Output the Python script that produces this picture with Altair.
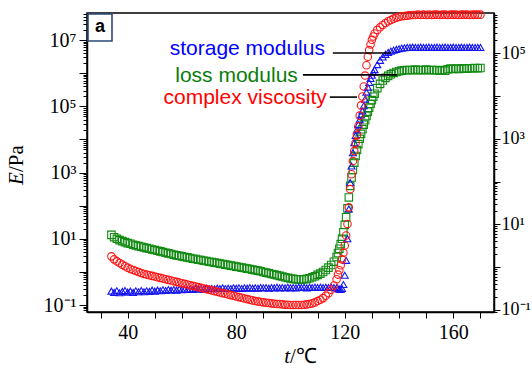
import altair as alt
import pandas as pd

# ---------------- data ----------------
temps = [
    34, 35, 36, 37, 38, 39, 40, 41, 42, 43,
    44, 45, 46, 47, 48, 49, 50, 51, 52, 53,
    54, 55, 56, 57, 58, 59, 60, 61, 62, 63,
    64, 65, 66, 67, 68, 69, 70, 71, 72, 73,
    74, 75, 76, 77, 78, 79, 80, 81, 82, 83,
    84, 85, 86, 87, 88, 89, 90, 91, 92, 93,
    94, 95, 96, 97, 98, 99, 100, 101, 102, 103,
    104, 105, 106, 107, 108, 109, 110, 111, 112, 113,
    114, 115, 116,
    117, 117.5, 118, 118.5, 119, 119.5, 120, 120.5, 121, 121.5,
    122, 122.5, 123, 123.5, 124, 124.5, 125, 125.5, 126, 126.5,
    127, 127.5, 128, 128.5, 129, 129.5, 130, 130.5, 131,
    132, 133, 134, 135, 136, 137, 138, 139, 140, 141,
    142, 143, 144, 145, 146, 147, 148, 149, 150, 151,
    152, 153, 154, 155, 156, 157, 158, 159, 160, 161,
    162, 163, 164, 165, 166, 167, 168, 169, 170,
]

# log10 of the values (Pa)
loss_log = [
    1.12, 1.05, 1.00, 0.96, 0.93, 0.90, 0.87, 0.85, 0.82, 0.80,
    0.78, 0.76, 0.74, 0.72, 0.70, 0.68, 0.66, 0.64, 0.62, 0.60,
    0.58, 0.56, 0.54, 0.52, 0.50, 0.49, 0.47, 0.45, 0.44, 0.42,
    0.40, 0.39, 0.37, 0.36, 0.34, 0.33, 0.31, 0.30, 0.28, 0.27,
    0.25, 0.24, 0.22, 0.21, 0.19, 0.18, 0.16, 0.15, 0.13, 0.12,
    0.10, 0.09, 0.07, 0.05, 0.04, 0.02, 0.00, -0.02, -0.04, -0.06,
    -0.08, -0.10, -0.12, -0.14, -0.16, -0.18, -0.20, -0.21, -0.22, -0.23,
    -0.23, -0.22, -0.21, -0.19, -0.16, -0.13, -0.09, -0.05, 0.00, 0.06,
    0.13, 0.21, 0.31,
    0.45, 0.57, 0.70, 0.84, 1.00, 1.20, 1.42, 1.65, 1.92, 2.25,
    2.60, 2.85, 3.08, 3.30, 3.50, 3.68, 3.86, 4.02, 4.17, 4.31,
    4.45, 4.58, 4.71, 4.84, 4.96, 5.08, 5.19, 5.29, 5.38,
    5.55, 5.68, 5.78, 5.86, 5.92, 5.97, 6.01, 6.04, 6.06, 6.08,
    6.09, 6.10, 6.10, 6.09, 6.11, 6.10, 6.09, 6.10, 6.11, 6.09,
    6.10, 6.10, 6.09, 6.08, 6.10, 6.08, 6.12, 6.14, 6.13, 6.14,
    6.13, 6.14, 6.15, 6.14, 6.15, 6.15, 6.16, 6.15, 6.16,
]

storage_log = [
    -0.58, -0.62, -0.57, -0.63, -0.59, -0.56, -0.61, -0.58, -0.62, -0.57,
    -0.60, -0.56, -0.60, -0.57, -0.59, -0.55, -0.58, -0.55, -0.57, -0.54,
    -0.56, -0.53, -0.55, -0.53, -0.55, -0.52, -0.54, -0.52, -0.53, -0.51,
    -0.53, -0.50, -0.52, -0.50, -0.52, -0.49, -0.51, -0.50, -0.51, -0.49,
    -0.50, -0.48, -0.50, -0.49, -0.50, -0.48, -0.49, -0.48, -0.50, -0.48,
    -0.49, -0.47, -0.49, -0.48, -0.49, -0.47, -0.48, -0.47, -0.49, -0.47,
    -0.48, -0.46, -0.48, -0.47, -0.48, -0.46, -0.48, -0.47, -0.48, -0.46,
    -0.47, -0.46, -0.48, -0.46, -0.47, -0.46, -0.47, -0.46, -0.47, -0.46,
    -0.47, -0.46, -0.47,
    -0.48, -0.50, -0.52, -0.53, -0.50, -0.38, -0.10, 0.35, 1.00, 1.90,
    2.70, 3.20, 3.60, 3.90, 4.12, 4.29, 4.45, 4.60, 4.74, 4.86,
    5.02, 5.22, 5.43, 5.58, 5.72, 5.84, 5.94, 6.03, 6.11,
    6.26, 6.39, 6.49, 6.57, 6.63, 6.67, 6.70, 6.72, 6.74, 6.76,
    6.77, 6.78, 6.78, 6.79, 6.78, 6.78, 6.79, 6.78, 6.78, 6.79,
    6.78, 6.78, 6.79, 6.78, 6.78, 6.79, 6.78, 6.78, 6.79, 6.78,
    6.78, 6.79, 6.78, 6.78, 6.79, 6.78, 6.78, 6.78, 6.78,
]

viscosity_log = [
    0.47, 0.38, 0.32, 0.27, 0.22, 0.17, 0.13, 0.09, 0.06, 0.03,
    0.00, -0.03, -0.06, -0.08, -0.10, -0.12, -0.14, -0.16, -0.18, -0.20,
    -0.22, -0.24, -0.26, -0.28, -0.30, -0.32, -0.34, -0.36, -0.38, -0.40,
    -0.42, -0.44, -0.46, -0.48, -0.50, -0.52, -0.54, -0.56, -0.58, -0.60,
    -0.62, -0.64, -0.66, -0.68, -0.70, -0.72, -0.74, -0.76, -0.78, -0.80,
    -0.82, -0.84, -0.86, -0.88, -0.89, -0.91, -0.92, -0.93, -0.94, -0.95,
    -0.96, -0.97, -0.97, -0.98, -0.99, -0.99, -1.00, -1.00, -1.00, -1.00,
    -1.00, -0.99, -0.98, -0.97, -0.95, -0.92, -0.88, -0.84, -0.79, -0.72,
    -0.64, -0.54, -0.41,
    -0.22, -0.08, 0.05, 0.20, 0.38, 0.58, 0.80, 1.10, 1.45, 1.95,
    2.50, 2.95, 3.35, 3.65, 3.90, 4.14, 4.40, 4.72, 5.03, 5.30,
    5.60, 5.93, 6.24, 6.50, 6.70, 6.87, 7.01, 7.11, 7.20,
    7.31, 7.39, 7.46, 7.52, 7.57, 7.61, 7.65, 7.68, 7.70, 7.72,
    7.73, 7.74, 7.75, 7.76, 7.76, 7.77, 7.76, 7.77, 7.76, 7.77,
    7.76, 7.77, 7.77, 7.76, 7.77, 7.77, 7.76, 7.77, 7.77, 7.77,
    7.76, 7.77, 7.77, 7.77, 7.76, 7.77, 7.77, 7.77, 7.77,
]

series_names = ["loss modulus", "storage modulus", "complex viscosity"]
series_colors = ["#138a13", "#1515f0", "#ff1414"]
series_shapes = ["square", "triangle-up", "circle"]

# annotation (legend) text and leader lines, in data units
label_text = ["storage modulus", "loss modulus", "complex viscosity"]
label_color = ["#0000ff", "#0b7d0b", "#ff0000"]
label_end_t = [112.7, 102.7, 113.4]
label_log = [6.72, 5.92, 5.26]
leader_t1 = [115.6, 104.6, 114.5]
leader_t2 = [137.0, 139.3, 124.5]
leader_log = [6.61, 5.95, 5.28]

x_ticks = [30, 40, 50, 60, 70, 80, 90, 100, 110, 120, 130, 140, 150, 160, 170]

# ---------------- build ----------------
assert len(temps) == len(loss_log) == len(storage_log) == len(viscosity_log)

df_series = {
    "loss modulus": pd.DataFrame({"T": temps, "v": [10 ** v for v in loss_log]}),
    "storage modulus": pd.DataFrame({"T": temps, "v": [10 ** v for v in storage_log]}),
    "complex viscosity": pd.DataFrame({"T": temps, "v": [10 ** v for v in viscosity_log]}),
}

LEFT_LO, LEFT_HI = 10 ** -1.21, 10 ** 7.82
RIGHT_LO, RIGHT_HI = 10 ** -1.05, 10 ** 5.94

left_ticks = [round(n * 10.0 ** k, 10) for k in range(-2, 8) for n in range(1, 10)
              if LEFT_LO <= n * 10.0 ** k <= LEFT_HI]
right_ticks = [round(n * 10.0 ** k, 10) for k in range(-2, 7) for n in range(1, 10)
               if RIGHT_LO <= n * 10.0 ** k <= RIGHT_HI]

xscale = alt.Scale(domain=[25, 175], nice=False, zero=False)
yscale = alt.Scale(type="log", domain=[LEFT_LO, LEFT_HI], nice=False)
yscale_r = alt.Scale(type="log", domain=[RIGHT_LO, RIGHT_HI], nice=False)

major_test = "abs(log(datum.value)/LN10 - round(log(datum.value)/LN10)) < 0.0001"
label_expr = ("datum.value == 0.1 ? '10⁻¹' : datum.value == 10 ? '10¹' : "
              "datum.value == 1000 ? '10³' : datum.value == 100000 ? '10⁵' : "
              "datum.value == 10000000 ? '10⁷' : ''")

SERIF = "Liberation Serif"
SANS = "Liberation Sans"

x_axis = alt.Axis(values=x_ticks, labelExpr="datum.value % 40 == 0 ? format(datum.value, 'd') : ''",
                  title=None, tickSize=6, labelPadding=4, labelOverlap=False,
                  labelFont=SERIF, labelFontSize=20)
y_axis = alt.Axis(values=left_ticks, labelExpr=label_expr, orient="left", title=None,
                  tickSize={"condition": {"test": major_test, "value": 8}, "value": 4},
                  labelPadding=3, labelOverlap=False, labelFont=SERIF, labelFontSize=20)
y_axis_r = alt.Axis(values=right_ticks, labelExpr=label_expr, orient="right", title=None,
                    tickSize={"condition": {"test": major_test, "value": 6}, "value": 3},
                    labelPadding=1, labelOverlap=False, labelFont=SERIF, labelFontSize=18)

layers = []
for i, name in enumerate(series_names):
    layers.append(
        alt.Chart(df_series[name]).mark_point(
            shape=series_shapes[i], filled=False, size=56 if series_shapes[i] != "triangle-up" else 48,
            strokeWidth=1.1, color=series_colors[i], opacity=1, clip=False
        ).encode(
            x=alt.X("T:Q", scale=xscale, axis=x_axis),
            y=alt.Y("v:Q", scale=yscale, axis=y_axis if i == 0 else None),
        )
    )

ann = pd.DataFrame({
    "text": label_text, "color": label_color, "T": label_end_t,
    "ty": [10 ** v for v in label_log],
    "t2": leader_t2, "t1": leader_t1, "ly": [10 ** v for v in leader_log],
})

rules = alt.Chart(ann).mark_rule(color="black", strokeWidth=1.6).encode(
    x=alt.X("t1:Q", scale=xscale, axis=x_axis), x2="t2:Q",
    y=alt.Y("ly:Q", scale=yscale, axis=None),
)
texts = alt.Chart(ann).mark_text(align="right", baseline="middle", font=SANS, fontSize=21).encode(
    x=alt.X("T:Q", scale=xscale, axis=x_axis),
    y=alt.Y("ty:Q", scale=yscale, axis=None),
    text="text:N",
    color=alt.Color("color:N", scale=None),
)

right_axis = alt.Chart(pd.DataFrame({"v": [1.0]})).mark_point(opacity=0).encode(
    y=alt.Y("v:Q", scale=yscale_r, axis=y_axis_r)
)

one = pd.DataFrame({"k": [0]})
box = alt.Chart(one).mark_rect(fill="white", stroke="#2b4a78", strokeWidth=1.6).encode(
    x=alt.value(1), x2=alt.value(25), y=alt.value(1), y2=alt.value(28)
)
box_text = alt.Chart(one).mark_text(text="a", font=SANS, fontWeight="bold", fontSize=18,
                                    align="center", baseline="middle", color="black").encode(
    x=alt.value(13), y=alt.value(14)
)

ytitle_e = alt.Chart(one).mark_text(text="E", font=SERIF, fontStyle="italic", fontSize=21,
                                    angle=270, align="left", baseline="middle", color="black").encode(
    x=alt.value(-70), y=alt.value(172)
)
ytitle_rest = alt.Chart(one).mark_text(text="/Pa", font=SERIF, fontSize=21,
                                       angle=270, align="left", baseline="middle", color="black").encode(
    x=alt.value(-70), y=alt.value(159)
)
xtitle_t = alt.Chart(one).mark_text(text="t", font=SERIF, fontStyle="italic", fontSize=21,
                                    align="right", baseline="middle", color="black").encode(
    x=alt.value(203), y=alt.value(344)
)
xtitle_rest = alt.Chart(one).mark_text(text="/℃", font=SERIF, fontSize=21,
                                       align="left", baseline="middle", color="black").encode(
    x=alt.value(203), y=alt.value(344)
)

chart = alt.layer(
    *layers, rules, texts, right_axis, box, box_text,
    ytitle_e, ytitle_rest, xtitle_t, xtitle_rest
).resolve_scale(
    y="independent"
).properties(
    width=407, height=299,
    autosize=alt.AutoSizeParams(type="none"),
    padding={"left": 87, "top": 13, "right": 38, "bottom": 69},
).configure_view(
    stroke="black", strokeWidth=1.5
).configure_axis(
    grid=False, domainColor="black", domainWidth=1.5, tickColor="black", tickWidth=1,
    labelColor="black"
)

chart.save("out.html", embed_options={"renderer": "svg", "actions": False})
